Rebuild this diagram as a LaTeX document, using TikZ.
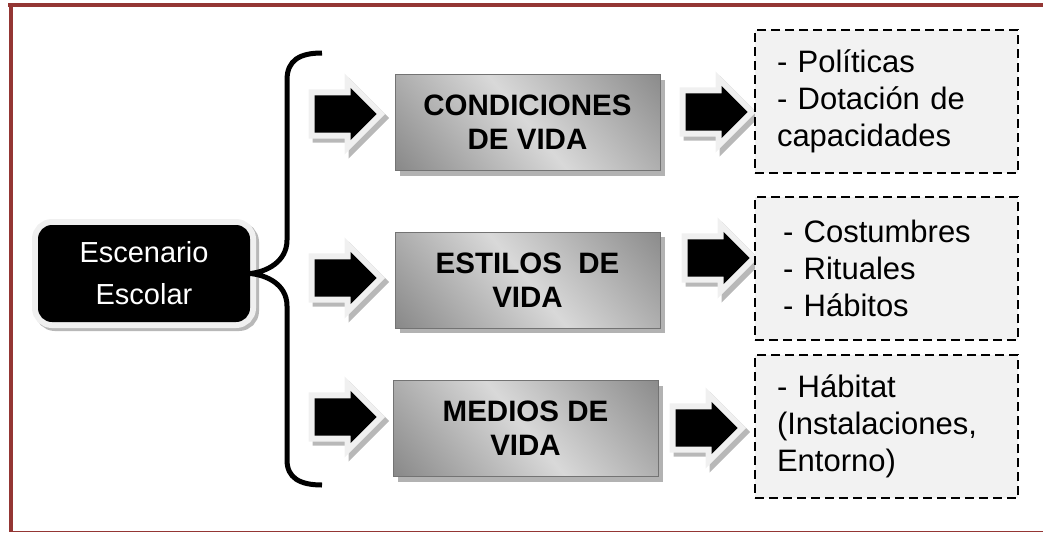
\documentclass[tikz,border=0pt]{standalone}
\usepackage{fontspec}
\setmainfont{Liberation Sans}
\usepackage{tikz}
\definecolor{colorFrame}{RGB}{148,54,52}
\colorlet{colorHalo}{black!6}
\colorlet{colorShadow}{black!28}
\colorlet{colorBoxShadow}{black!30}
\colorlet{colorList}{black!5}
\usetikzlibrary{shapes.arrows}
\usetikzlibrary{positioning}
\pgfdeclarehorizontalshading{boxshade}{100bp}{color(0bp)=(black!60); color(50bp)=(black!15); color(100bp)=(black!58)}
\tikzset{
   frame/.style={color=colorFrame,line width=4pt},
   brace/.style={line width=5pt},
   escbox/.style={rectangle,rounded corners=14pt,fill=black,text=white,
      minimum width=212pt,minimum height=97pt,inner sep=0pt,align=center,
      font=\fontsize{29}{42}\selectfont,
      preaction={draw=colorShadow,line width=12pt,transform canvas={shift={(3pt,-3pt)}}},
      preaction={draw=colorHalo,line width=12pt}},
   lvl/.style={rectangle,shade,shading=boxshade,shading angle=40,draw=black!55,
      minimum width=265pt,minimum height=96pt,inner sep=0pt,align=center,
      font=\bfseries\fontsize{29.5}{34}\selectfont,
      preaction={fill=colorBoxShadow,transform canvas={shift={(5pt,-5pt)}}}},
   lst/.style={rectangle,draw=black,fill=colorList,line width=2.5pt,
      dash pattern=on 9pt off 5pt,minimum height=143pt,inner ysep=0pt,
      inner xsep=22pt,text width=219pt,align=left,
      font=\fontsize{31}{37}\selectfont},
   blk/.style={single arrow,fill=black,minimum height=62pt,
      single arrow head extend=7.5pt,inner xsep=0pt,inner ysep=18.5pt,line join=miter,
      preaction={draw=colorShadow,fill=colorShadow,line width=12pt,
         transform canvas={shift={(4pt,-4pt)}}},
      preaction={draw=colorHalo,fill=colorHalo,line width=12pt}},
}

\begin{document}
\begin{tikzpicture}[x=1pt,y=-1pt]

        \useasboundingbox (0,0) rectangle (1043,533);

        \draw[frame] (8,5.3) -- (1043,5.3);
        \draw[frame] (10.5,3.3) -- (10.5,532);
        \draw[color=colorFrame,line width=1.5pt] (10.5,531.5) -- (1043,531.5);

        \node[escbox] (esc) at (144,273.5) {Escenario\\Escolar};

        \coordinate (bt) at (322,53);
        \coordinate (bb) at (322,485);
        \draw[brace] (bt) .. controls (300,53) and (287,60) .. (287,80) -- (287,240)
             .. controls (287,262) and (266,272) .. (esc.east)
             .. controls (266,275) and (287,284) .. (287,306) -- (287,460)
             .. controls (287,478) and (300,485) .. (bb);

        \node[lvl] (b1) at (527.5,122.5) {CONDICIONES\\DE VIDA};
        \node[lvl] (b2) at (527.5,280) {ESTILOS~~DE\\VIDA};
        \node[lvl] (b3) at (525.5,428.5) {MEDIOS DE\\VIDA};

        \node[blk,anchor=tip] (a11) at (377,114) {};
        \node[blk,anchor=tip] (a21) at (377,278) {};
        \node[blk,anchor=tip] (a31) at (377,417) {};

        \node[blk,anchor=tip] (a12) at (748,112) {};
        \node[blk,anchor=tip] (a22) at (750,258) {};
        \node[blk,anchor=tip] (a32) at (738,428) {};

        \node[lst] (d1) at (886.5,101.5) {- Políticas\\- Dotación de\\capacidades};
        \node[lst,inner xsep=28pt,text width=207pt] (d2) at (886.5,268.5) {- Costumbres\\- Rituales\\- Hábitos};
        \node[lst] (d3) at (886.5,426.5) {- Hábitat\\(Instalaciones,\\Entorno)};

\end{tikzpicture}
\end{document}
